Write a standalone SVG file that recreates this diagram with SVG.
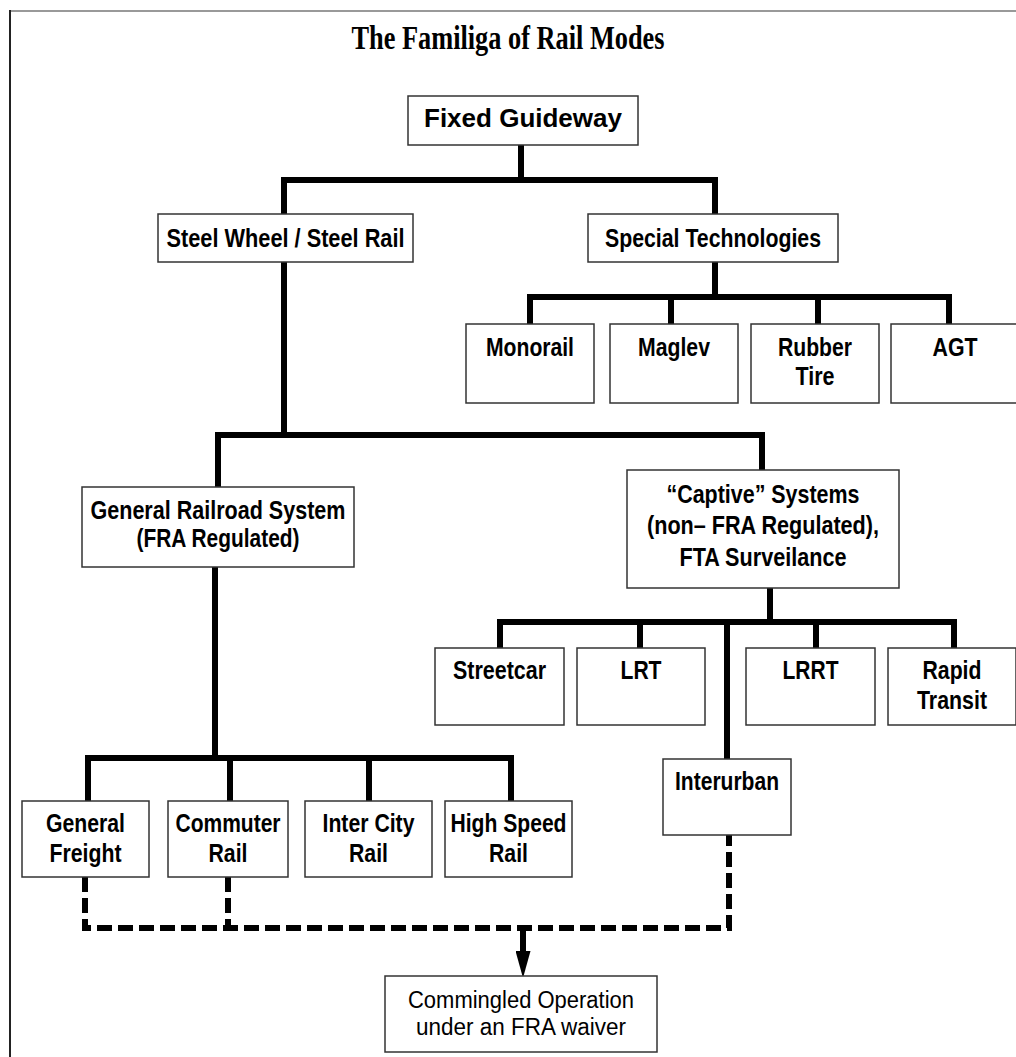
<svg xmlns="http://www.w3.org/2000/svg" width="1016" height="1057" viewBox="0 0 1016 1057">
<style>
.box{fill:#fff;stroke:#333;stroke-width:1.5}
.lbl{font-family:"Liberation Sans",Arial,sans-serif;font-weight:bold;font-size:26px;fill:#000;text-anchor:middle}
.reg{font-family:"Liberation Sans",Arial,sans-serif;font-size:23px;fill:#000;text-anchor:middle}
.title{font-family:"Liberation Serif","Times New Roman",serif;font-weight:bold;font-size:33px;fill:#000;text-anchor:middle}
.conn{fill:none;stroke:#000;stroke-width:6;stroke-linejoin:miter;stroke-linecap:butt}
.dash{fill:none;stroke:#000;stroke-width:6;stroke-dasharray:15 6;stroke-linejoin:miter}
</style>
<defs>
<marker id="arrow" markerUnits="userSpaceOnUse" markerWidth="27" markerHeight="15" refX="0" refY="7.5" orient="auto" viewBox="0 0 27 15">
<path d="M0,0 L27,7.5 L0,15 z" fill="#000"/>
</marker>
</defs>
<rect width="1016" height="1057" fill="#fff"/>
<g id="frame">
<line x1="10" y1="11" x2="1016" y2="11" stroke="#999" stroke-width="2"/>
<line x1="10" y1="10" x2="10" y2="1057" stroke="#222" stroke-width="2"/>
</g>
<text class="title" x="508" y="49" textLength="313" lengthAdjust="spacingAndGlyphs">The Familiga of Rail Modes</text>
<g id="connectors">
<path class="conn" d="M521,145 V180"/>
<path class="conn" d="M284,214 V180 H715 V214"/>
<path class="conn" d="M715,262 V297"/>
<path class="conn" d="M530,324 V297 H949 V324"/>
<path class="conn" d="M671,297 V324"/>
<path class="conn" d="M818,297 V324"/>
<path class="conn" d="M284,262 V435"/>
<path class="conn" d="M218,487 V435 H762 V470"/>
<path class="conn" d="M215,567 V758"/>
<path class="conn" d="M88,801 V758 H511 V801"/>
<path class="conn" d="M230,758 V801"/>
<path class="conn" d="M369,758 V801"/>
<path class="conn" d="M770,588 V622"/>
<path class="conn" d="M500,648 V622 H954 V648"/>
<path class="conn" d="M640,622 V648"/>
<path class="conn" d="M816,622 V648"/>
<path class="conn" d="M727,622 V759"/>
<path class="dash" d="M85,877 V928 H729 V835"/>
<path class="dash" d="M228,877 V928"/>
<path class="conn" d="M523,925 V951" marker-end="url(#arrow)"/>
</g>
<g id="n-fixed"><rect class="box" x="408" y="96" width="230" height="49"/><text class="lbl" x="523" y="127" textLength="198" lengthAdjust="spacingAndGlyphs">Fixed Guideway</text></g>
<g id="n-steel"><rect class="box" x="158" y="214" width="255" height="48"/><text class="lbl" x="285.5" y="247" textLength="238" lengthAdjust="spacingAndGlyphs">Steel Wheel / Steel Rail</text></g>
<g id="n-special"><rect class="box" x="588" y="214" width="250" height="48"/><text class="lbl" x="713" y="247" textLength="216" lengthAdjust="spacingAndGlyphs">Special Technologies</text></g>
<g id="n-monorail"><rect class="box" x="466" y="324" width="128" height="79"/><text class="lbl" x="530" y="356" textLength="88" lengthAdjust="spacingAndGlyphs">Monorail</text></g>
<g id="n-maglev"><rect class="box" x="610" y="324" width="128" height="79"/><text class="lbl" x="674" y="356" textLength="72" lengthAdjust="spacingAndGlyphs">Maglev</text></g>
<g id="n-rubber"><rect class="box" x="751" y="324" width="128" height="79"/><text class="lbl" x="815" y="356" textLength="74" lengthAdjust="spacingAndGlyphs">Rubber</text><text class="lbl" x="815" y="385" textLength="39" lengthAdjust="spacingAndGlyphs">Tire</text></g>
<g id="n-agt"><rect class="box" x="891" y="324" width="128" height="79"/><text class="lbl" x="955" y="356" textLength="45" lengthAdjust="spacingAndGlyphs">AGT</text></g>
<g id="n-general"><rect class="box" x="82" y="487" width="272" height="80"/><text class="lbl" x="218" y="519" textLength="255" lengthAdjust="spacingAndGlyphs">General Railroad System</text><text class="lbl" x="218" y="547" textLength="163" lengthAdjust="spacingAndGlyphs">(FRA Regulated)</text></g>
<g id="n-captive"><rect class="box" x="627" y="470" width="272" height="118"/><text class="lbl" x="763" y="503" textLength="193" lengthAdjust="spacingAndGlyphs">“Captive” Systems</text><text class="lbl" x="763" y="534" textLength="232" lengthAdjust="spacingAndGlyphs">(non– FRA Regulated),</text><text class="lbl" x="763" y="566" textLength="167" lengthAdjust="spacingAndGlyphs">FTA Surveilance</text></g>
<g id="n-streetcar"><rect class="box" x="435" y="648" width="129" height="77"/><text class="lbl" x="499.5" y="679" textLength="93" lengthAdjust="spacingAndGlyphs">Streetcar</text></g>
<g id="n-lrt"><rect class="box" x="577" y="648" width="128" height="77"/><text class="lbl" x="641" y="679" textLength="41" lengthAdjust="spacingAndGlyphs">LRT</text></g>
<g id="n-lrrt"><rect class="box" x="746" y="648" width="129" height="77"/><text class="lbl" x="810.5" y="679" textLength="56" lengthAdjust="spacingAndGlyphs">LRRT</text></g>
<g id="n-rapid"><rect class="box" x="888" y="648" width="128" height="77"/><text class="lbl" x="952" y="679" textLength="59" lengthAdjust="spacingAndGlyphs">Rapid</text><text class="lbl" x="952" y="709" textLength="70" lengthAdjust="spacingAndGlyphs">Transit</text></g>
<g id="n-interurban"><rect class="box" x="663" y="759" width="128" height="76"/><text class="lbl" x="727" y="790" textLength="104" lengthAdjust="spacingAndGlyphs">Interurban</text></g>
<g id="n-freight"><rect class="box" x="22" y="801" width="127" height="76"/><text class="lbl" x="85.5" y="832" textLength="79" lengthAdjust="spacingAndGlyphs">General</text><text class="lbl" x="85.5" y="862" textLength="72" lengthAdjust="spacingAndGlyphs">Freight</text></g>
<g id="n-commuter"><rect class="box" x="168" y="801" width="120" height="76"/><text class="lbl" x="228" y="832" textLength="105" lengthAdjust="spacingAndGlyphs">Commuter</text><text class="lbl" x="228" y="862" textLength="39" lengthAdjust="spacingAndGlyphs">Rail</text></g>
<g id="n-intercity"><rect class="box" x="305" y="801" width="127" height="76"/><text class="lbl" x="368.5" y="832" textLength="92" lengthAdjust="spacingAndGlyphs">Inter City</text><text class="lbl" x="368.5" y="862" textLength="39" lengthAdjust="spacingAndGlyphs">Rail</text></g>
<g id="n-highspeed"><rect class="box" x="445" y="801" width="127" height="76"/><text class="lbl" x="508.5" y="832" textLength="116" lengthAdjust="spacingAndGlyphs">High Speed</text><text class="lbl" x="508.5" y="862" textLength="39" lengthAdjust="spacingAndGlyphs">Rail</text></g>
<g id="n-commingled"><rect class="box" x="385" y="976" width="272" height="76"/><text class="reg" x="521" y="1008" textLength="226" lengthAdjust="spacingAndGlyphs">Commingled Operation</text><text class="reg" x="521" y="1035" textLength="210" lengthAdjust="spacingAndGlyphs">under an FRA waiver</text></g>
</svg>
